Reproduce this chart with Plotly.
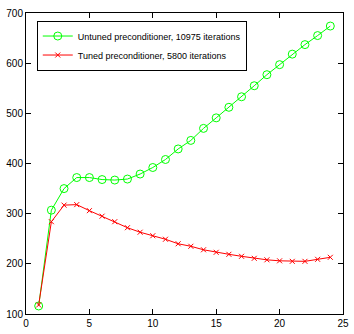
import plotly.graph_objects as go

iterations = list(range(1, 25))
untuned = [116, 307, 350, 372, 372, 368, 367, 369, 379, 392, 408, 429,
           446, 470, 491, 512, 533, 555, 577, 597, 618, 637, 655, 674]
tuned = [118, 284, 317, 318, 306, 295, 284, 272, 263, 256, 249, 240,
         235, 228, 223, 219, 215, 211, 208, 206, 205, 205, 209, 213]
x_ticks = [0, 5, 10, 15, 20, 25]
y_ticks = [100, 200, 300, 400, 500, 600, 700]

fig = go.Figure()
fig.add_trace(go.Scatter(
    x=iterations, y=untuned, mode="lines+markers",
    name="Untuned preconditioner, 10975 iterations",
    line=dict(color="#00ff00", width=1),
    marker=dict(symbol="circle-open", size=8, color="#00ff00", line=dict(width=1)),
))
fig.add_trace(go.Scatter(
    x=iterations, y=tuned, mode="lines+markers",
    name="Tuned preconditioner, 5800 iterations",
    line=dict(color="#ff0000", width=1),
    marker=dict(symbol="x-thin-open", size=5, color="#ff0000", line=dict(width=1, color="#ff0000")),
))

axis_common = dict(
    showgrid=False, zeroline=False, showline=True, linecolor="black", linewidth=1,
    mirror="ticks", ticks="inside", ticklen=5, tickcolor="black", tickwidth=1,
    tickfont=dict(family="Liberation Sans, Arial", size=10, color="black"),
)
fig.update_xaxes(range=[0, 25], tickvals=x_ticks, **axis_common)
fig.update_yaxes(range=[100, 700], tickvals=y_ticks, **axis_common)

fig.update_layout(
    width=354, height=334,
    margin=dict(l=26, r=5, t=13, b=14),
    plot_bgcolor="white", paper_bgcolor="white",
    font=dict(family="Liberation Sans, Arial", size=10, color="black"),
    legend=dict(
        x=0.034, y=0.975, xanchor="left", yanchor="top",
        bordercolor="black", borderwidth=1, bgcolor="white",
        font=dict(size=9), tracegroupgap=0, itemwidth=30,
    ),
)

fig.write_html(
    "out.html",
    config={"displayModeBar": False},
    post_script="document.body.style.margin='0';document.body.style.overflow='hidden';",
)
